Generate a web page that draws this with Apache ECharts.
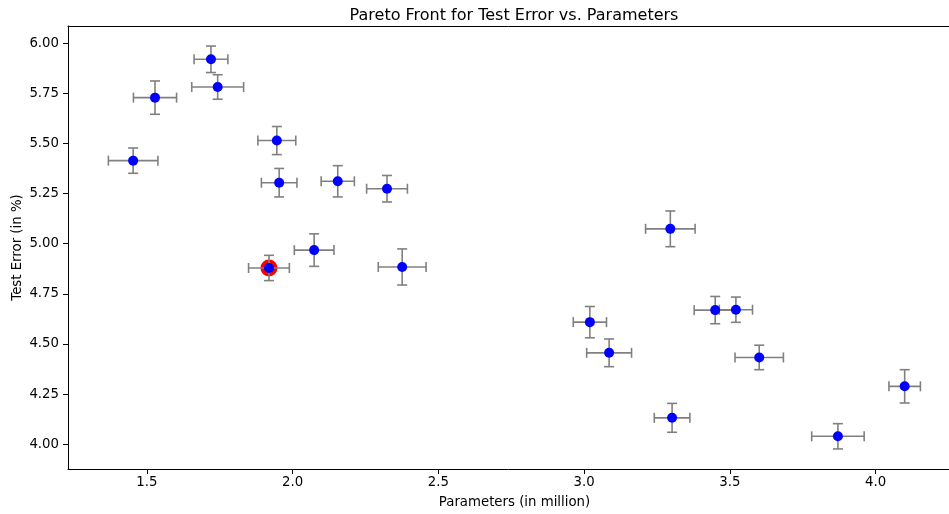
<!DOCTYPE html>
<html>
<head>
<meta charset="utf-8">
<script src="https://cdn.jsdelivr.net/npm/echarts@6/dist/echarts.min.js"></script>
<style>html,body{margin:0;padding:0;background:#fff}#c{width:949px;height:514px}</style>
</head>
<body>
<div id="c"></div>
<script>
// Parameters (in million)
const params   = [1.720, 1.743, 1.528, 1.946, 1.453, 1.954, 2.155, 2.324, 1.919, 2.074, 2.376, 3.296, 3.450, 3.521, 3.020, 3.086, 3.601, 4.100, 3.302, 3.871];
// Test Error (in %)
const testErr  = [5.919, 5.781, 5.728, 5.514, 5.414, 5.304, 5.311, 5.274, 4.879, 4.968, 4.884, 5.074, 4.669, 4.671, 4.609, 4.456, 4.433, 4.289, 4.132, 4.040];
// error bar half-widths
const paramSd  = [0.058, 0.089, 0.074, 0.065, 0.085, 0.061, 0.057, 0.070, 0.070, 0.068, 0.082, 0.085, 0.072, 0.057, 0.057, 0.077, 0.083, 0.054, 0.061, 0.090];
const errSd    = [0.066, 0.061, 0.083, 0.070, 0.063, 0.071, 0.078, 0.066, 0.063, 0.081, 0.090, 0.089, 0.068, 0.063, 0.078, 0.069, 0.061, 0.083, 0.072, 0.063];
const highlightIndex = 8;
const xTicks = [1.5, 2.0, 2.5, 3.0, 3.5, 4.0];
const yTicks = [4.00, 4.25, 4.50, 4.75, 5.00, 5.25, 5.50, 5.75, 6.00];

const errData = params.map((p, i) => [p, testErr[i], paramSd[i], errSd[i]]);
const ptData = params.map((p, i) => [p, testErr[i]]);
const hlData = [[params[highlightIndex], testErr[highlightIndex]]];

const chart = echarts.init(document.getElementById('c'), null, {renderer: 'canvas'});
const font = 'DejaVu Sans';
const cap = 5;
const xMin = 1.2295, xMax = 4.2521;
chart.setOption({
  animation: false,
  backgroundColor: '#fff',
  title: {
    text: 'Pareto Front for Test Error vs. Parameters',
    left: 509, top: 3, textAlign: 'center',
    textStyle: {fontFamily: font, fontSize: 16, fontWeight: 'normal', color: '#000'}
  },
  grid: {left: 68, right: 0, top: 26, bottom: 45, show: false, containLabel: false, outerBoundsMode: 'none'},
  xAxis: [{
    type: 'value', min: xMin, max: xMax,
    name: 'Parameters (in million)', nameLocation: 'middle', nameGap: 27,
    nameTextStyle: {fontFamily: font, fontSize: 13.3, color: '#000', padding: [0, 0, 0, 12]},
    splitLine: {show: false},
    axisLine: {show: true, onZero: false, lineStyle: {color: '#000', width: 1}},
    axisTick: {show: true, customValues: xTicks, length: 5, inside: false, lineStyle: {color: '#000'}},
    axisLabel: {customValues: xTicks, fontFamily: font, fontSize: 13.3, color: '#000', margin: 7, formatter: v => v.toFixed(1)}
  }, {
    type: 'value', position: 'top', min: xMin, max: xMax,
    splitLine: {show: false},
    axisLine: {show: true, onZero: false, lineStyle: {color: '#000', width: 1}},
    axisTick: {show: false}, axisLabel: {show: false}
  }],
  yAxis: {
    type: 'value', min: 3.877, max: 6.085,
    name: 'Test Error (in %)', nameLocation: 'middle', nameGap: 44, nameMoveOverlap: false,
    nameTextStyle: {fontFamily: font, fontSize: 13.3, color: '#000'},
    splitLine: {show: false},
    axisLine: {show: true, onZero: false, lineStyle: {color: '#000', width: 1}},
    axisTick: {show: true, customValues: yTicks, length: 5, inside: false, lineStyle: {color: '#000'}},
    axisLabel: {customValues: yTicks, fontFamily: font, fontSize: 13.3, color: '#000', margin: 9, formatter: v => v.toFixed(2)}
  },
  series: [
    {
      type: 'scatter', data: hlData, symbolSize: 17, z: 1,
      itemStyle: {color: '#ff0000', opacity: 1}
    },
    {
      type: 'custom', z: 2, data: errData,
      encode: {x: 0, y: 1},
      renderItem: function (params, api) {
        const x = api.value(0), y = api.value(1), dx = api.value(2), dy = api.value(3);
        const l = api.coord([x - dx, y]), r = api.coord([x + dx, y]);
        const t = api.coord([x, y + dy]), b = api.coord([x, y - dy]);
        const st = {stroke: '#808080', lineWidth: 1.6};
        const mk = (x1, y1, x2, y2) => ({type: 'line', shape: {x1, y1, x2, y2}, style: st});
        return {type: 'group', children: [
          mk(l[0], l[1], r[0], r[1]),
          mk(t[0], t[1], b[0], b[1]),
          mk(l[0], l[1] - cap, l[0], l[1] + cap),
          mk(r[0], r[1] - cap, r[0], r[1] + cap),
          mk(t[0] - cap, t[1], t[0] + cap, t[1]),
          mk(b[0] - cap, b[1], b[0] + cap, b[1])
        ]};
      }
    },
    {
      type: 'scatter', data: ptData, symbolSize: 10, z: 3,
      itemStyle: {color: '#0000ff', opacity: 1}
    }
  ]
});
</script>
</body>
</html>
